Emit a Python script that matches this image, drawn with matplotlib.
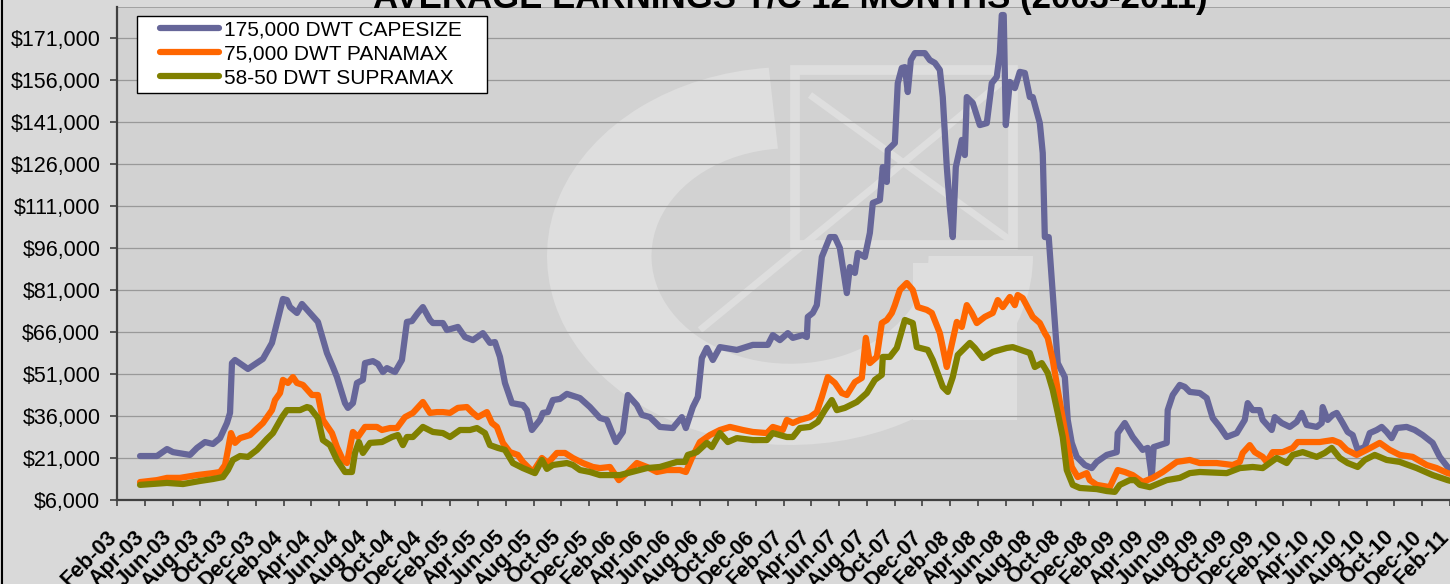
import matplotlib
matplotlib.use("Agg")
import matplotlib.pyplot as plt
from matplotlib.patches import Rectangle, Wedge
from matplotlib.lines import Line2D
from matplotlib.transforms import Affine2D, ScaledTranslation, blended_transform_factory
from matplotlib.ticker import FuncFormatter

plt.rcParams['font.family'] = ['Liberation Sans', 'DejaVu Sans']

# ---------------- data (x = months since Feb-2003) ----------------
cape_m = [1.66, 2.88, 3.6, 4.03, 5.26, 5.76, 6.34, 6.91, 7.42, 7.92, 8.14, 8.28, 8.5, 9.43, 10.51, 11.16,
          11.52, 11.95, 12.24, 12.46, 12.96, 13.32, 13.9, 14.47, 15.12, 15.55, 15.84, 16.42, 16.63, 16.99,
          17.28, 17.71, 17.86, 18.43, 18.79, 19.15, 19.44, 20.02, 20.52, 20.88, 21.24, 21.67, 22.03, 22.54,
          22.75, 23.47, 23.76, 24.55, 25.06, 25.63, 26.35, 26.86, 27.22, 27.58, 27.94, 28.44, 29.23, 29.52,
          29.88, 30.46, 30.67, 31.03, 31.39, 31.9, 32.4, 33.34, 34.06, 34.78, 35.28, 35.93, 36.43, 36.79,
          37.44, 37.8, 38.38, 39.1, 40.03, 40.68, 40.97, 41.47, 41.83, 42.12, 42.48, 42.91, 43.42, 44.64,
          45.79, 46.87, 47.23, 47.74, 48.31, 48.67, 49.39, 49.68, 49.75, 50.11, 50.4, 50.76, 51.34, 51.7,
          52.06, 52.27, 52.56, 52.78, 53.14, 53.35, 53.86, 54.22, 54.43, 54.94, 55.15, 55.44, 55.51, 56.02,
          56.23, 56.52, 56.74, 56.95, 57.17, 57.46, 58.18, 58.54, 58.9, 59.26, 59.47, 59.76, 59.98, 60.19,
          60.41, 60.84, 61.06, 61.2, 61.63, 62.14, 62.64, 63.0, 63.36, 63.58, 63.72, 63.86, 64.01, 64.3,
          64.66, 65.02, 65.38, 65.74, 65.95, 66.46, 66.67, 66.82, 67.1, 67.75, 68.26, 68.47, 68.76, 69.12,
          69.7, 70.2, 70.56, 71.28, 72.0, 72.07, 72.58, 73.15, 73.87, 74.23, 74.52, 74.66, 75.6, 75.67,
          76.03, 76.54, 76.9, 77.26, 77.98, 78.48, 78.91, 79.42, 79.92, 80.64, 81.22, 81.43, 81.79, 82.3,
          82.51, 83.16, 83.38, 83.88, 84.46, 84.96, 85.32, 85.68, 86.4, 86.76, 86.83, 87.19, 87.55, 87.84,
          88.27, 88.63, 88.99, 89.35, 89.86, 90.22, 90.72, 91.08, 91.44, 91.8, 92.16, 92.88, 93.46, 94.03,
          94.75, 95.26, 95.83, 96.3]
cape_v = [21700, 21700, 24200, 23100, 22100, 24600, 26700, 26000, 28100, 33500, 37100, 54900, 56000, 52800,
          56400, 62100, 69200, 77800, 77400, 74900, 72800, 76000, 72800, 69600, 58500, 53500, 49900, 40600,
          38900, 40600, 47800, 48900, 54900, 55600, 54600, 51700, 53100, 51700, 56000, 69600, 69900, 72800,
          74900, 70300, 69200, 69200, 66700, 67800, 64200, 63100, 65600, 62100, 62400, 57100, 47800, 40600,
          39900, 38100, 31000, 34600, 37100, 37400, 41700, 42100, 43900, 42400, 39200, 35300, 34600, 26700,
          30300, 43500, 39900, 36400, 35600, 32100, 31700, 35600, 31700, 39200, 42800, 56700, 60300, 56000,
          60600, 59600, 61400, 61400, 64900, 63100, 65600, 63900, 64900, 64200, 71400, 72800, 75600, 92800,
          99900, 99900, 96000, 89200, 79900, 89200, 87100, 94200, 92800, 101400, 112100, 113100, 124900,
          119600, 131000, 133500, 154900, 160300, 160600, 151700, 163100, 165600, 165600, 163100, 162100,
          159600, 149900, 124900, 110600, 99900, 124900, 134600, 129200, 149900, 147800, 139900, 140600,
          154900, 157100, 165600, 179200, 179200, 139900, 155300, 153100, 158900, 158500, 149900, 149900,
          140600, 129900, 99900, 99900, 54900, 49900, 34600, 26400, 21400, 18500, 17400, 19600, 22100, 23100,
          29900, 33500, 28500, 23900, 24600, 14200, 24900, 26400, 38100, 43500, 47100, 46400, 44600, 44200,
          42400, 35300, 32100, 28500, 29900, 34600, 40600, 38100, 38100, 34600, 31000, 35600, 33500, 32100,
          33900, 37100, 32800, 32100, 33500, 39200, 34600, 36400, 37100, 33500, 30300, 29200, 23900, 24900,
          29900, 31000, 32100, 30300, 28100, 31700, 32100, 31000, 29200, 26400, 21400, 17800, 16500]

pana_m = [1.66, 2.88, 3.6, 4.54, 5.76, 6.91, 7.42, 7.78, 7.99, 8.21, 8.5, 8.86, 9.58, 10.51, 11.16, 11.38,
          11.74, 11.95, 12.31, 12.67, 12.96, 13.39, 14.04, 14.47, 14.83, 15.48, 15.84, 16.27, 16.56, 16.99,
          17.35, 17.86, 18.72, 19.08, 19.66, 20.16, 20.74, 21.31, 22.03, 22.54, 23.04, 23.47, 23.98, 24.55,
          25.2, 25.56, 25.99, 26.64, 27.0, 27.36, 27.79, 28.3, 28.87, 29.23, 29.95, 30.6, 31.03, 31.68, 32.26,
          32.83, 33.55, 34.27, 34.78, 35.5, 36.14, 36.72, 37.44, 38.16, 38.88, 39.6, 40.54, 40.97, 41.4,
          41.98, 42.7, 43.42, 44.14, 45.07, 45.79, 46.8, 47.23, 47.95, 48.24, 48.67, 49.18, 49.9, 50.4,
          50.76, 51.19, 51.7, 52.2, 52.56, 53.14, 53.64, 53.93, 54.22, 54.72, 55.08, 55.44, 55.8, 56.02,
          56.38, 56.88, 57.31, 57.67, 58.32, 58.68, 59.26, 59.76, 59.98, 60.48, 60.84, 61.2, 61.56, 61.92,
          62.5, 63.07, 63.43, 63.79, 64.3, 64.66, 64.87, 65.23, 65.95, 66.46, 66.82, 67.03, 67.39, 67.75,
          68.26, 68.76, 69.19, 69.84, 70.06, 70.56, 71.5, 72.07, 72.58, 73.15, 73.87, 74.59, 75.31, 76.32,
          77.26, 77.98, 79.2, 80.35, 80.86, 81.07, 81.58, 81.94, 82.51, 82.8, 83.23, 83.95, 84.67, 85.03,
          86.62, 87.55, 88.06, 88.56, 89.28, 90.0, 90.94, 91.66, 92.38, 93.31, 94.32, 95.04, 95.83, 96.3]
pana_v = [12400, 13100, 13900, 13900, 14900, 15600, 16000, 18500, 23900, 29900, 26400, 28100, 29200, 33500,
          38100, 41700, 44200, 48900, 47800, 49900, 47800, 47100, 43500, 43500, 34600, 29900, 24900, 20300,
          19200, 30300, 28500, 32100, 32100, 31000, 31700, 31700, 35600, 37100, 41000, 37100, 37400, 37400,
          37100, 38900, 39200, 37400, 35600, 37400, 33500, 32100, 26400, 23100, 22100, 19600, 16000, 21000,
          19200, 22800, 22800, 21000, 19200, 17800, 17400, 17800, 13100, 15600, 19200, 17800, 16000, 16700,
          16700, 16000, 21000, 26700, 29200, 31000, 32100, 31000, 30300, 29900, 32100, 31000, 34600, 33500,
          34600, 35600, 37400, 42800, 49900, 47800, 44200, 43500, 48100, 49600, 63900, 54900, 57100, 69200,
          70300, 72800, 75600, 81000, 83500, 81000, 74900, 73900, 72800, 65600, 53500, 58500, 69600, 67800,
          75600, 72800, 69200, 71400, 72800, 77400, 74900, 78500, 75600, 79200, 78100, 71400, 69200, 65600,
          63900, 56000, 45300, 31000, 17800, 14200, 15600, 13100, 11400, 10600, 16700, 16000, 14900, 12400,
          13900, 16000, 19600, 20300, 19200, 19200, 18500, 19600, 22800, 25600, 23100, 21400, 19600, 23100,
          23100, 24600, 26700, 26700, 27400, 26400, 23900, 22100, 23900, 26400, 23900, 22100, 21400, 18500,
          17400, 15600, 15000]

supra_m = [1.66, 3.6, 4.75, 5.98, 6.91, 7.63, 7.99, 8.35, 8.86, 9.43, 10.08, 10.8, 11.23, 11.88, 12.24,
           13.18, 13.68, 13.9, 14.47, 14.83, 15.34, 15.84, 16.42, 16.92, 17.14, 17.42, 17.71, 18.22, 19.08,
           19.8, 20.23, 20.59, 20.88, 21.31, 22.03, 22.75, 23.47, 23.98, 24.7, 25.42, 25.92, 26.5, 26.86,
           27.43, 27.94, 28.51, 29.23, 30.1, 30.6, 30.96, 31.39, 32.4, 32.83, 33.34, 34.06, 34.78, 36.22,
           38.16, 39.1, 40.32, 40.9, 41.11, 41.76, 42.48, 42.84, 43.42, 43.99, 44.64, 45.79, 46.8, 47.23,
           48.24, 48.67, 49.18, 49.9, 50.47, 50.98, 51.48, 51.84, 52.42, 53.28, 54.0, 54.58, 55.08, 55.15,
           55.66, 56.16, 56.74, 57.31, 57.6, 58.39, 58.75, 59.47, 59.83, 60.19, 60.55, 61.42, 61.78, 62.35,
           63.07, 64.08, 64.51, 65.74, 66.1, 66.6, 67.03, 67.39, 67.75, 68.11, 68.4, 68.83, 69.34, 70.56,
           71.28, 71.86, 72.22, 72.94, 73.3, 73.66, 74.38, 75.6, 76.54, 77.26, 77.98, 79.92, 80.86, 81.79,
           82.51, 83.52, 84.24, 84.67, 85.39, 86.4, 86.98, 87.48, 88.06, 88.63, 89.35, 89.86, 90.58, 91.44,
           92.38, 93.6, 94.75, 95.83, 96.3]
supra_v = [11400, 12100, 11700, 12800, 13500, 14200, 16700, 20300, 21700, 21400, 23900, 27800, 29900, 35600,
           38100, 38100, 39200, 38900, 35300, 27400, 25600, 20300, 16000, 16000, 22800, 26700, 22800, 26400,
           26700, 28500, 29200, 25600, 28500, 28500, 32100, 30300, 29900, 28500, 31000, 31000, 31700, 29900,
           25600, 24600, 23900, 19200, 17400, 15600, 20300, 17100, 18500, 19200, 18500, 16700, 16000, 14900,
           14900, 17400, 17800, 19600, 19600, 22100, 23100, 26400, 24900, 29900, 26700, 28100, 27400, 27400,
           29900, 28500, 28500, 31700, 32100, 33900, 38100, 41700, 38100, 38900, 41000, 44200, 48900, 50700,
           57100, 57100, 60300, 70300, 69200, 60600, 59600, 56000, 46400, 44600, 49900, 57800, 62100, 60300,
           56700, 58900, 60300, 60600, 58500, 53500, 54900, 51400, 45300, 37100, 28500, 16700, 11400, 10300,
           9900, 9200, 8900, 11400, 13100, 13100, 11400, 10600, 13100, 13900, 15600, 16000, 15600, 17400,
           17800, 17400, 21000, 19200, 22100, 23100, 21400, 22800, 24600, 21000, 19200, 17800, 20300, 22100,
           20300, 19600, 17400, 14900, 13100, 12500]

series_names = ["175,000 DWT CAPESIZE", "75,000 DWT PANAMAX", "58-50 DWT SUPRAMAX"]
series_colors = ["#666699", "#FF6600", "#808000"]

tick_months = list(range(0, 97, 2))
tick_labels = [f"{mon}-{yy:02d}" for yy in range(3, 12) for mon in ["Feb", "Apr", "Jun", "Aug", "Oct", "Dec"]][:49]

y_ticks = list(range(6000, 171001, 15000))
title = "AVERAGE EARNINGS T/C 12 MONTHS (2003-2011)"

# ---------------- figure ----------------
W, H = 1450, 584
fig = plt.figure(figsize=(W / 100, H / 100), dpi=100, facecolor="#d9d9d9")
ax = fig.add_axes([117 / W, 84 / H, 1 - 117 / W, 493 / H])
ax.set_facecolor("#d2d2d2")

# watermark (faint logo)
wm = "#dedede"
ring_tf = Affine2D().scale(243 / W, 189 / H).translate(790 / W, (H - 256) / H) + fig.transFigure
ax.add_patch(Wedge((0, 0), 1.0, 95, 360, width=0.43, transform=ring_tf, facecolor=wm, edgecolor="none", zorder=0.1))
ax.add_patch(Rectangle((795 / W, (H - 245) / H), 218 / W, 175 / H, transform=fig.transFigure,
                       facecolor="none", edgecolor=wm, lw=7, zorder=0.1))
ax.add_patch(Rectangle((913 / W, (H - 420) / H), 104 / W, 157 / H, transform=fig.transFigure,
                       facecolor=wm, edgecolor="none", zorder=0.1))
ax.plot([700 / W, 1010 / W], [(H - 330) / H, (H - 75) / H], transform=fig.transFigure, color=wm, lw=5,
        zorder=0.1, solid_capstyle="butt")
ax.plot([810 / W, 1010 / W], [(H - 95) / H, (H - 240) / H], transform=fig.transFigure, color=wm, lw=5,
        zorder=0.1, solid_capstyle="butt")

for xm, yv, name, col in zip([cape_m, pana_m, supra_m], [cape_v, pana_v, supra_v], series_names, series_colors):
    ax.plot(xm, yv, color=col, lw=4.5, label=name, solid_capstyle="round", solid_joinstyle="round", zorder=2)

ax.set_xlim(0, 96.0)
ax.set_ylim(6000, 182070)
ax.set_yticks(y_ticks)
ax.yaxis.set_major_formatter(FuncFormatter(lambda v, p: f"${v:,.0f}"))
ax.set_axisbelow(True)
ax.yaxis.grid(True, color="#999999", lw=0.9)
ax.xaxis.grid(False)

ax.set_xticks(tick_months)
ax.set_xticklabels([])
lab_tf = blended_transform_factory(ax.transData, ax.transAxes) + ScaledTranslation(-0.11, -0.265, fig.dpi_scale_trans)
for m, lab in zip(tick_months, tick_labels):
    ax.text(m, 0, lab, transform=lab_tf, rotation=45, rotation_mode="anchor", ha="right", va="top",
            fontsize=15.5, fontweight="bold", clip_on=False)

ax.tick_params(axis="y", labelsize=15.5, length=5, width=1.2, color="#404040", pad=7, direction="out")
ax.tick_params(axis="x", length=4.5, width=1.2, color="#404040", direction="out")

for s in ["top", "right"]:
    ax.spines[s].set_visible(False)
for s in ["left", "bottom"]:
    ax.spines[s].set_color("#404040")
    ax.spines[s].set_linewidth(1.6)

# top frame line of plot area
ax.axhline(182070, color="#999999", lw=1.2, zorder=1)

# legend
ax.add_patch(Rectangle((137 / W, (H - 93) / H), 350 / W, 77 / H, transform=fig.transFigure,
                       facecolor="white", edgecolor="black", lw=1.0, zorder=4.9))
leg = ax.legend(loc="upper left", bbox_to_anchor=(158 / W, (H - 18) / H), bbox_transform=fig.transFigure,
                frameon=False, fontsize=15, handlelength=2.85, handletextpad=0.22, labelspacing=0.25,
                borderpad=0.1, borderaxespad=0)
leg.set_zorder(5)

fig.text(790 / W, 1 - 8 / H, title, ha="center", va="baseline", fontsize=25, fontweight="bold")

# outer chart border (left edge)
fig.add_artist(Line2D([1.5 / W, 1.5 / W], [0, 1], transform=fig.transFigure, color="black", lw=1.5))

fig.savefig("out.png", dpi=100, facecolor=fig.get_facecolor())
